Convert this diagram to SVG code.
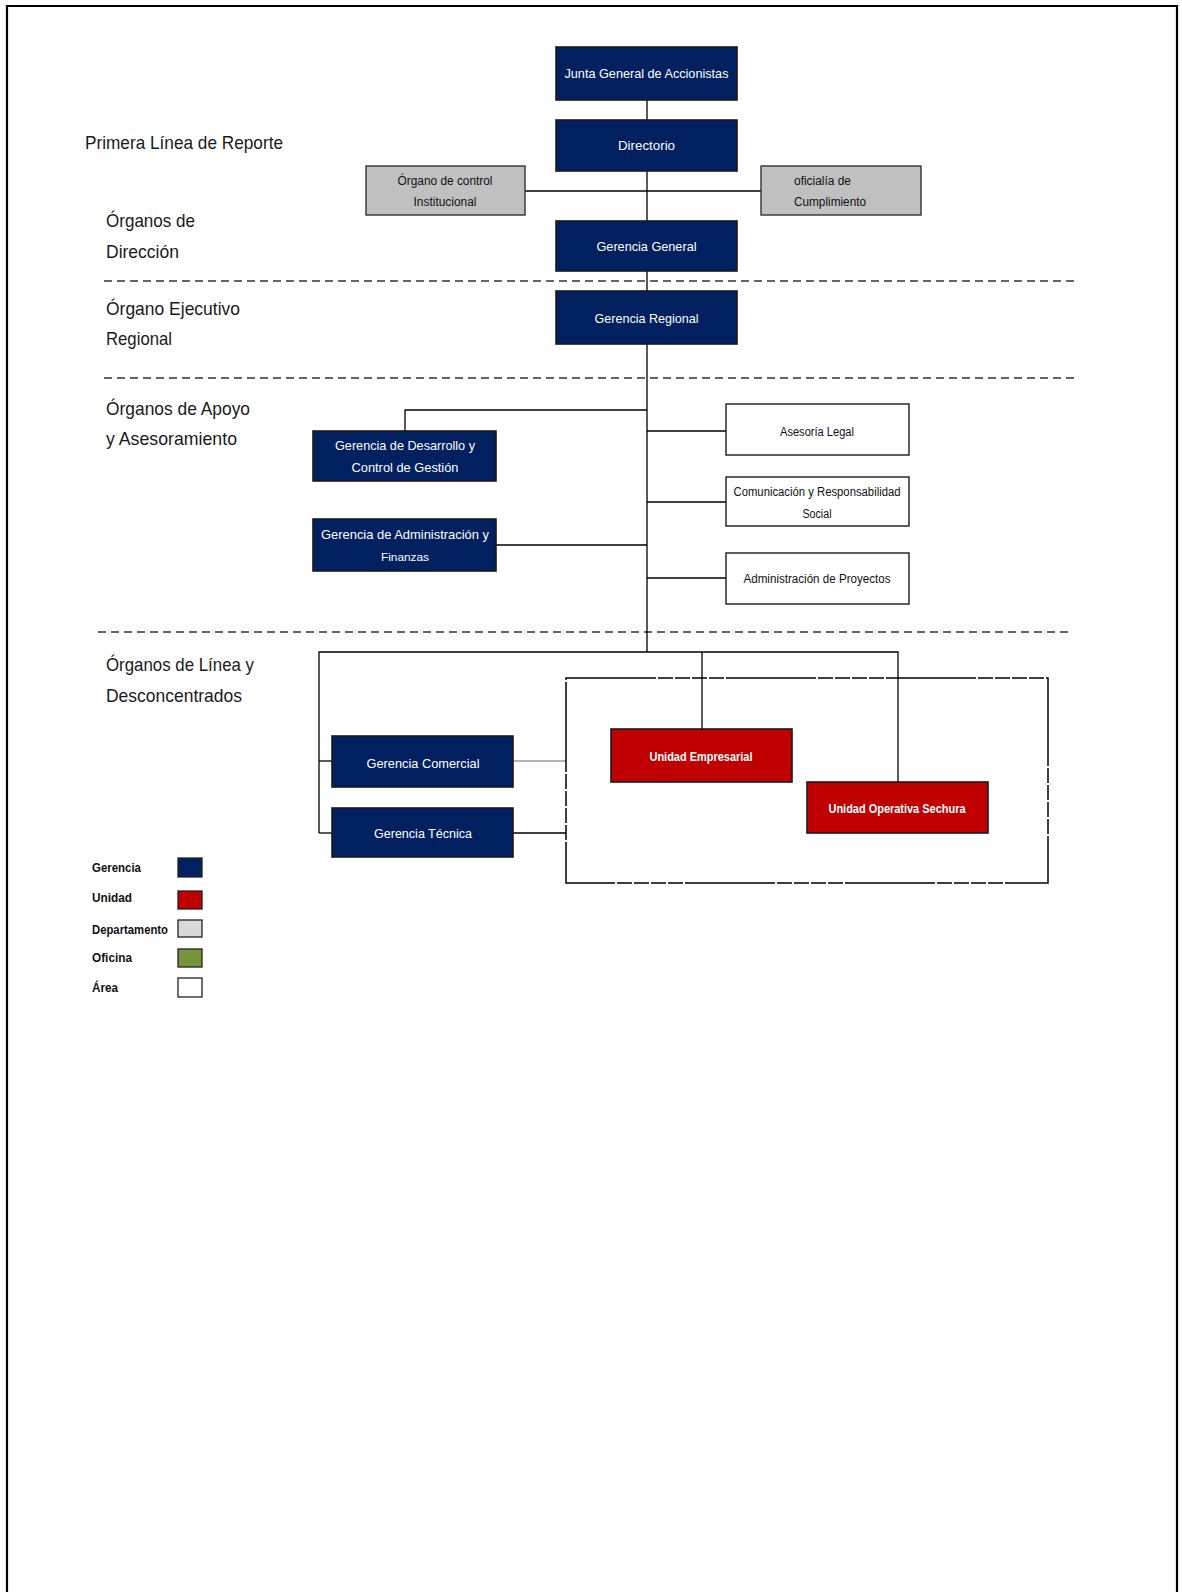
<svg xmlns="http://www.w3.org/2000/svg" width="1182" height="1592" viewBox="0 0 1182 1592">
<style>
.frame{fill:none;stroke:#000;stroke-width:2.2}
.sep{fill:none;stroke:#333;stroke-width:1.3;stroke-dasharray:8 5}
.con{fill:none;stroke:#000;stroke-width:1.3}
.ger{fill:#002060;stroke:#1a1a1a;stroke-width:1.6}
.uni{fill:#C00000;stroke:#1a1a1a;stroke-width:1.6}
.dep{fill:#C0C0C0;stroke:#333;stroke-width:1.4}
.area{fill:#fff;stroke:#1a1a1a;stroke-width:1.4}
.wt{fill:#fff;font-family:"Liberation Sans",Arial,sans-serif;font-size:13px;text-anchor:middle}
.bt{fill:#111;font-family:"Liberation Sans",Arial,sans-serif;font-size:12px}
.sec{fill:#1a1a1a;font-family:"Liberation Sans",Arial,sans-serif;font-size:19px}
.leg{fill:#111;font-family:"Liberation Sans",Arial,sans-serif;font-size:13px;font-weight:bold}
</style>
<rect width="1182" height="1592" fill="#fff"/>
<path class="frame" d="M7,1592 V6 H1177 V1592"/>

<g id="section-labels">
<text class="sec" x="85" y="149" textLength="198" lengthAdjust="spacingAndGlyphs">Primera Línea de Reporte</text>
<text class="sec" x="106" y="227" textLength="89" lengthAdjust="spacingAndGlyphs">Órganos de</text>
<text class="sec" x="106" y="258" textLength="73" lengthAdjust="spacingAndGlyphs">Dirección</text>
<text class="sec" x="106" y="315" textLength="134" lengthAdjust="spacingAndGlyphs">Órgano Ejecutivo</text>
<text class="sec" x="106" y="345" textLength="66" lengthAdjust="spacingAndGlyphs">Regional</text>
<text class="sec" x="106" y="415" textLength="144" lengthAdjust="spacingAndGlyphs">Órganos de Apoyo</text>
<text class="sec" x="106" y="445" textLength="131" lengthAdjust="spacingAndGlyphs">y Asesoramiento</text>
<text class="sec" x="106" y="671" textLength="148" lengthAdjust="spacingAndGlyphs">Órganos de Línea y</text>
<text class="sec" x="106" y="702" textLength="136" lengthAdjust="spacingAndGlyphs">Desconcentrados</text>
</g>

<g id="separators">
<line class="sep" x1="104" y1="281" x2="1078" y2="281"/>
<line class="sep" x1="104" y1="378" x2="1078" y2="378"/>
<line class="sep" x1="98" y1="632" x2="1073" y2="632"/>
</g>

<g id="connectors">
<line class="con" x1="647" y1="100" x2="647" y2="652"/>
<line class="con" x1="525" y1="191" x2="761" y2="191"/>
<polyline class="con" points="405,431 405,410 647,410"/>
<line class="con" x1="647" y1="431" x2="726" y2="431"/>
<line class="con" x1="647" y1="502" x2="726" y2="502"/>
<line class="con" x1="496" y1="545" x2="647" y2="545"/>
<line class="con" x1="647" y1="578" x2="726" y2="578"/>
<polyline class="con" points="319,833 319,652 898,652 898,782"/>
<line class="con" x1="702" y1="652" x2="702" y2="729"/>
<line class="con" x1="319" y1="761" x2="332" y2="761"/>
<line class="con" x1="319" y1="833" x2="332" y2="833"/>
<line x1="513" y1="761" x2="566" y2="761" style="stroke:#9a9a9a;stroke-width:1.6"/>
<line class="con" x1="513" y1="833" x2="566" y2="833"/>
<rect x="566" y="678" width="482" height="205" fill="none" stroke="#000" stroke-width="1.5" stroke-dasharray="90 2 15 2 15 2 15 2 15 2"/>
</g>

<g id="junta">
<rect class="ger" x="556" y="47" width="181" height="53"/>
<text class="wt" x="646.5" y="78" textLength="164" lengthAdjust="spacingAndGlyphs">Junta General de Accionistas</text>
</g>
<g id="directorio">
<rect class="ger" x="556" y="120" width="181" height="51"/>
<text class="wt" x="646.5" y="150" textLength="57" lengthAdjust="spacingAndGlyphs">Directorio</text>
</g>
<g id="organo-control">
<rect class="dep" x="366" y="166" width="159" height="49"/>
<text class="bt" x="445" y="185" text-anchor="middle" textLength="95" lengthAdjust="spacingAndGlyphs">Órgano de control</text>
<text class="bt" x="445" y="206" text-anchor="middle" textLength="63" lengthAdjust="spacingAndGlyphs">Institucional</text>
</g>
<g id="oficialia">
<rect class="dep" x="761" y="166" width="160" height="49"/>
<text class="bt" x="794" y="185" textLength="57" lengthAdjust="spacingAndGlyphs">oficialía de</text>
<text class="bt" x="794" y="206" textLength="72" lengthAdjust="spacingAndGlyphs">Cumplimiento</text>
</g>
<g id="gerencia-general">
<rect class="ger" x="556" y="221" width="181" height="50"/>
<text class="wt" x="646.5" y="251" textLength="100" lengthAdjust="spacingAndGlyphs">Gerencia General</text>
</g>
<g id="gerencia-regional">
<rect class="ger" x="556" y="291" width="181" height="53"/>
<text class="wt" x="646.5" y="323" textLength="104" lengthAdjust="spacingAndGlyphs">Gerencia Regional</text>
</g>
<g id="gerencia-desarrollo">
<rect class="ger" x="313" y="431" width="183" height="50"/>
<text class="wt" x="405" y="450" textLength="140" lengthAdjust="spacingAndGlyphs">Gerencia de Desarrollo y</text>
<text class="wt" x="405" y="472" textLength="107" lengthAdjust="spacingAndGlyphs">Control de Gestión</text>
</g>
<g id="gerencia-administracion">
<rect class="ger" x="313" y="519" width="183" height="52"/>
<text class="wt" x="405" y="539" textLength="168" lengthAdjust="spacingAndGlyphs">Gerencia de Administración y</text>
<text class="wt" x="405" y="561" style="font-size:11px" textLength="48" lengthAdjust="spacingAndGlyphs">Finanzas</text>
</g>
<g id="asesoria-legal">
<rect class="area" x="726" y="404" width="183" height="51"/>
<text class="bt" x="817" y="436" text-anchor="middle" textLength="74" lengthAdjust="spacingAndGlyphs">Asesoría Legal</text>
</g>
<g id="comunicacion">
<rect class="area" x="726" y="477" width="183" height="49"/>
<text class="bt" x="817" y="496" text-anchor="middle" textLength="167" lengthAdjust="spacingAndGlyphs">Comunicación y Responsabilidad</text>
<text class="bt" x="817" y="518" text-anchor="middle" textLength="29" lengthAdjust="spacingAndGlyphs">Social</text>
</g>
<g id="administracion-proyectos">
<rect class="area" x="726" y="553" width="183" height="51"/>
<text class="bt" x="817" y="583" text-anchor="middle" textLength="147" lengthAdjust="spacingAndGlyphs">Administración de Proyectos</text>
</g>
<g id="gerencia-comercial">
<rect class="ger" x="332" y="736" width="181" height="51"/>
<text class="wt" x="423" y="768" textLength="113" lengthAdjust="spacingAndGlyphs">Gerencia Comercial</text>
</g>
<g id="gerencia-tecnica">
<rect class="ger" x="332" y="808" width="181" height="49"/>
<text class="wt" x="423" y="838" textLength="98" lengthAdjust="spacingAndGlyphs">Gerencia Técnica</text>
</g>
<g id="unidad-empresarial">
<rect class="uni" x="611" y="729" width="181" height="53"/>
<text class="wt" x="701" y="761" style="font-weight:bold" textLength="103" lengthAdjust="spacingAndGlyphs">Unidad Empresarial</text>
</g>
<g id="unidad-sechura">
<rect class="uni" x="807" y="782" width="181" height="51"/>
<text class="wt" x="897" y="813" style="font-weight:bold" textLength="137" lengthAdjust="spacingAndGlyphs">Unidad Operativa Sechura</text>
</g>

<g id="legend">
<text class="leg" x="92" y="872" textLength="49" lengthAdjust="spacingAndGlyphs">Gerencia</text>
<rect x="178" y="858" width="24" height="19" fill="#002060" stroke="#222" stroke-width="1.3"/>
<text class="leg" x="92" y="902" textLength="40" lengthAdjust="spacingAndGlyphs">Unidad</text>
<rect x="178" y="891" width="24" height="18" fill="#C00000" stroke="#222" stroke-width="1.3"/>
<text class="leg" x="92" y="934" textLength="76" lengthAdjust="spacingAndGlyphs">Departamento</text>
<rect x="178" y="920" width="24" height="17" fill="#D9D9D9" stroke="#222" stroke-width="1.3"/>
<text class="leg" x="92" y="962" textLength="40" lengthAdjust="spacingAndGlyphs">Oficina</text>
<rect x="178" y="949" width="24" height="18" fill="#77933C" stroke="#222" stroke-width="1.3"/>
<text class="leg" x="92" y="992" textLength="26" lengthAdjust="spacingAndGlyphs">Área</text>
<rect x="178" y="978" width="24" height="19" fill="#fff" stroke="#222" stroke-width="1.3"/>
</g>
</svg>
